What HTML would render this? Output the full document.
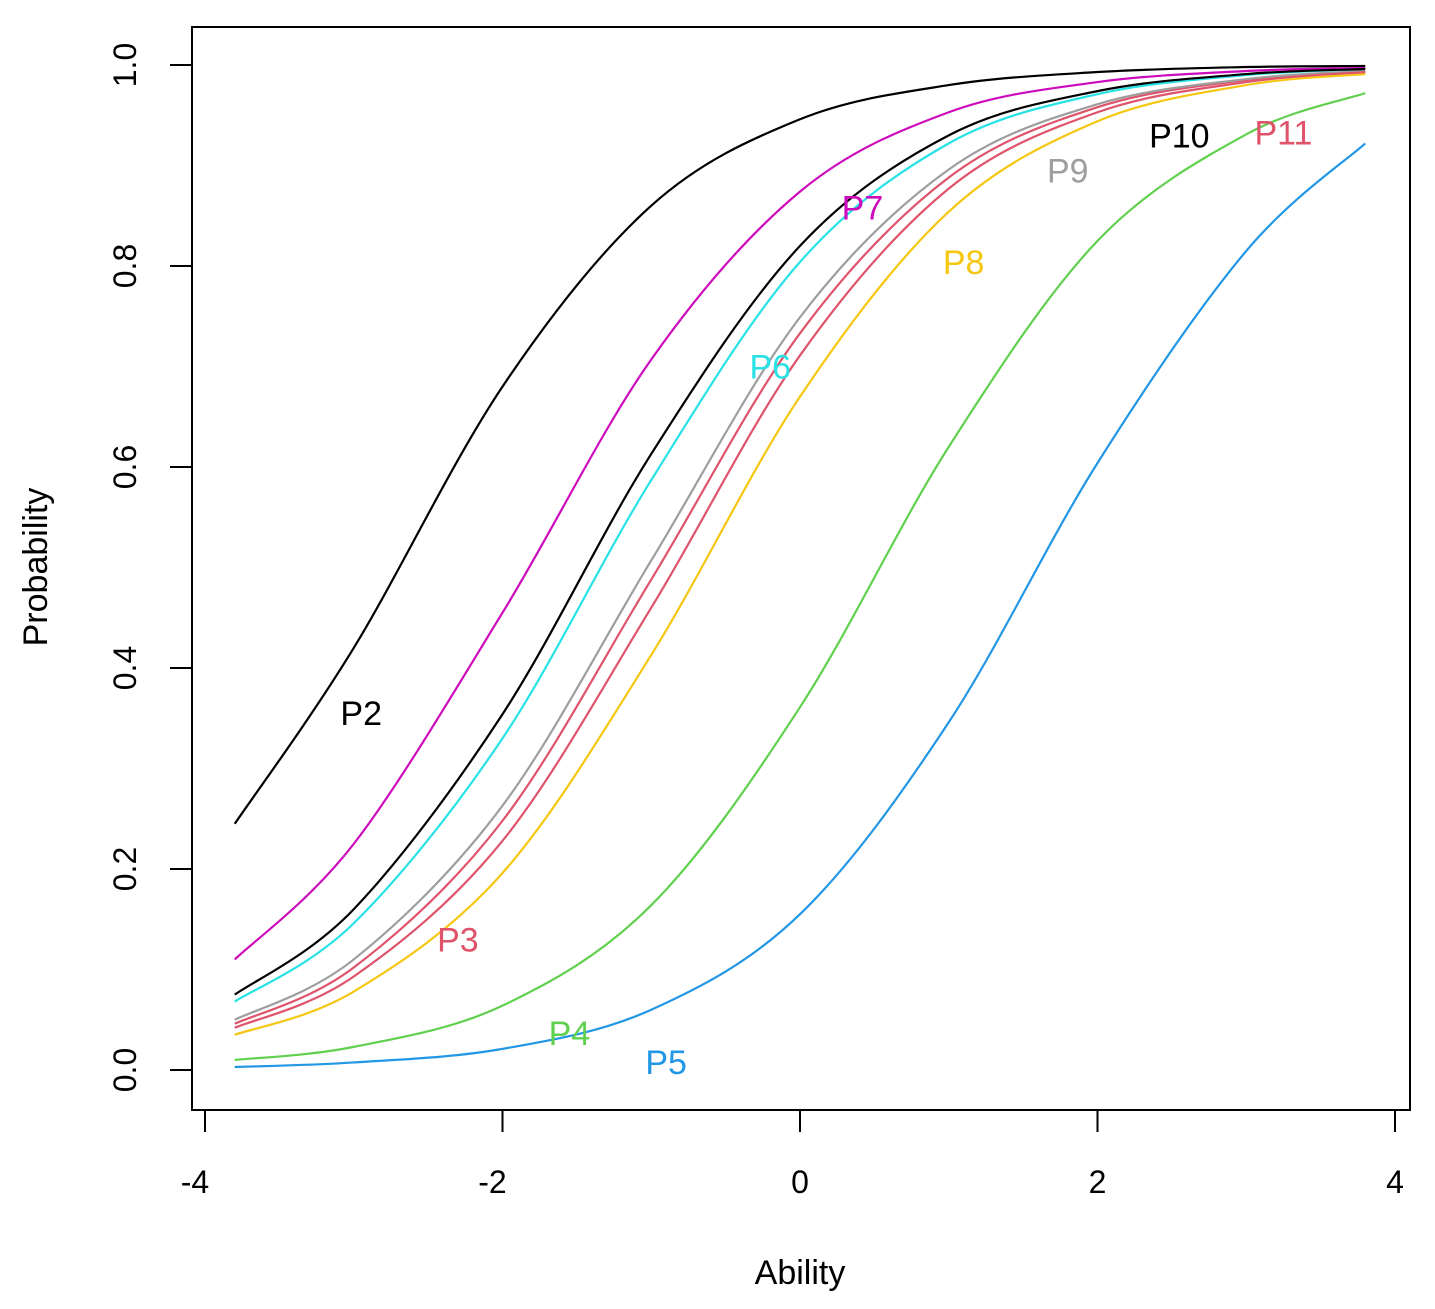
<!DOCTYPE html>
<html><head><meta charset="utf-8"><style>
html,body{margin:0;padding:0;background:#fff;}
svg{display:block;font-family:"Liberation Sans",Arial,sans-serif;}
</style></head><body>
<svg id="chart" width="1435" height="1309" viewBox="0 0 1435 1309" xmlns="http://www.w3.org/2000/svg">
<rect x="192" y="27" width="1218" height="1083" fill="none" stroke="#000" stroke-width="2"/>
<g id="axes"></g>
<g id="series"></g>
<g id="labels"></g>
<text x="800" y="1284" font-size="34" text-anchor="middle">Ability</text>
<text transform="translate(47,567) rotate(-90)" font-size="34" text-anchor="middle">Probability</text>
</svg>
<script>
const xPoints = [-3.8,-3,-2,-1,0,1,2,3,3.8];
const itemNames = ["P2","P3","P4","P5","P6","P7","P8","P9","P10","P11"];
const itemColors = ["#000000","#DF536B","#61D04F","#2297E6","#28E2E5","#CD0BBC","#F5C710","#9E9E9E","#000000","#DF536B"];
const P2 = [0.245,0.42,0.68,0.86,0.946,0.98,0.993,0.998,0.999];
const P3 = [0.046,0.102,0.248,0.488,0.733,0.888,0.958,0.985,0.993];
const P4 = [0.01,0.023,0.064,0.164,0.361,0.62,0.825,0.931,0.972];
const P5 = [0.003,0.0075,0.021,0.06,0.155,0.346,0.604,0.815,0.922];
const P6 = [0.068,0.146,0.33,0.587,0.804,0.922,0.971,0.99,0.996];
const P7 = [0.11,0.225,0.455,0.707,0.874,0.953,0.983,0.994,0.997];
const P8 = [0.035,0.078,0.196,0.413,0.67,0.854,0.944,0.98,0.991];
const P9 = [0.05,0.11,0.263,0.507,0.749,0.896,0.961,0.986,0.994];
const P10 = [0.075,0.16,0.354,0.613,0.82,0.93,0.974,0.991,0.996];
const P11 = [0.042,0.093,0.228,0.46,0.711,0.877,0.953,0.983,0.993];
const labelX = [-2.95,-2.3,-1.55,-0.9,-0.2,0.42,1.1,1.8,2.55,3.25];
const labelY = [0.355,0.13,0.037,0.008,0.7,0.858,0.804,0.895,0.93,0.933];
const xTicks = [-4,-2,0,2,4];
const yTicks = [0,0.2,0.4,0.6,0.8,1.0];
const yTickLabels = ["0.0","0.2","0.4","0.6","0.8","1.0"];

const allSeries = [P2,P3,P4,P5,P6,P7,P8,P9,P10,P11];
const NS = "http://www.w3.org/2000/svg";
function sx(x){return 800 + x*148.75;}
function sy(y){return 1070 - y*1005;}
function mk(tag, attrs, parent){const e=document.createElementNS(NS,tag);for(const k in attrs)e.setAttribute(k,attrs[k]);parent.appendChild(e);return e;}

const axes=document.getElementById('axes');
let xl=mk('line',{x1:sx(-4),x2:sx(4),y1:1110,y2:1110,stroke:'#000','stroke-width':2},axes);


xTicks.forEach(t=>{
  const l=mk('line',{x1:sx(t),x2:sx(t),y1:1110,y2:1132,stroke:'#000','stroke-width':2},axes);
  
  
  const tx=mk('text',{x:sx(t)-(t<0?10:0),y:1193,'font-size':32,'text-anchor':'middle'},axes);
  tx.textContent=String(t);
  
  
});
let yl=mk('line',{x1:192,x2:192,y1:sy(0),y2:sy(1),stroke:'#000','stroke-width':2},axes);


yTicks.forEach((t,i)=>{
  const l=mk('line',{x1:170,x2:192,y1:sy(t),y2:sy(t),stroke:'#000','stroke-width':2},axes);
  
  
  const tx=mk('text',{transform:`translate(136,${sy(t)}) rotate(-90)`,'font-size':32,'text-anchor':'middle'},axes);
  tx.textContent=yTickLabels[i];
  
  
});

function pathFor(vals){
  const pts=xPoints.map((x,i)=>[sx(x),sy(vals[i])]);
  let d=`M${pts[0][0]},${pts[0][1]}`;
  for(let i=0;i<pts.length-1;i++){
    const p0=pts[Math.max(0,i-1)],p1=pts[i],p2=pts[i+1],p3=pts[Math.min(pts.length-1,i+2)];
    const c1=[p1[0]+(p2[0]-p0[0])/6,p1[1]+(p2[1]-p0[1])/6];
    const c2=[p2[0]-(p3[0]-p1[0])/6,p2[1]-(p3[1]-p1[1])/6];
    d+=` C${c1[0]},${c1[1]} ${c2[0]},${c2[1]} ${p2[0]},${p2[1]}`;
  }
  return d;
}
const series=document.getElementById('series');
const labels=document.getElementById('labels');
allSeries.forEach((vals,i)=>{
  const p=mk('path',{d:pathFor(vals),fill:'none',stroke:itemColors[i],'stroke-width':2.2},series);
  
  
  const t=mk('text',{x:sx(labelX[i]),y:sy(labelY[i])+12,'font-size':34,'text-anchor':'middle',fill:itemColors[i]},labels);
  t.textContent=itemNames[i];
  
  
});
</script>
</body></html>
